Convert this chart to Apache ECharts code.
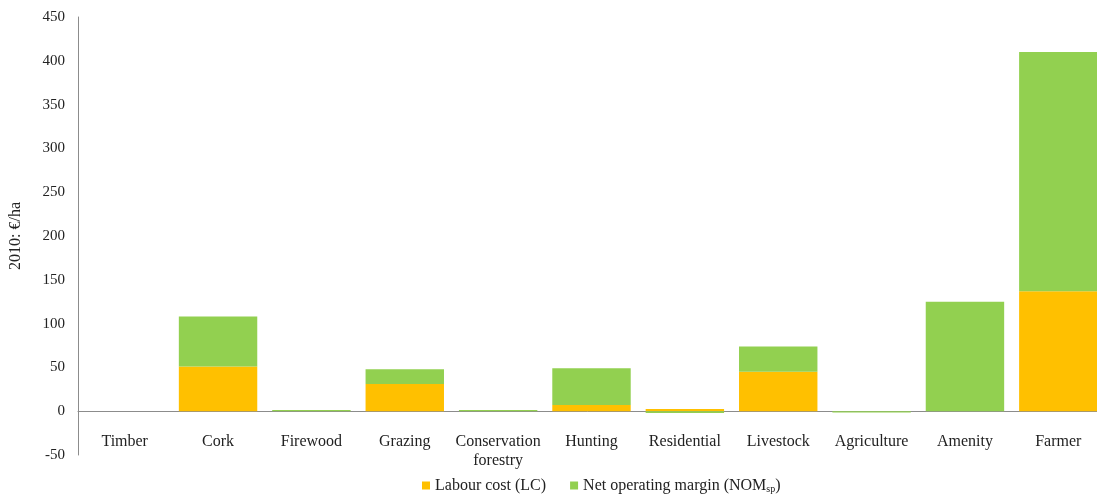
<!DOCTYPE html>
<html>
<head>
<meta charset="utf-8">
<script src="https://cdn.jsdelivr.net/npm/echarts@6/dist/echarts.min.js"></script>
<style>
  html, body { margin: 0; padding: 0; background: #fff; }
  #chart { width: 1097px; height: 496px; }
</style>
</head>
<body>
<div id="chart"></div>
<script>
// Activities on the farm (x axis)
const categories = ['Timber', 'Cork', 'Firewood', 'Grazing', 'Conservation\nforestry',
  'Hunting', 'Residential', 'Livestock', 'Agriculture', 'Amenity', 'Farmer'];

// Labour cost (LC), 2010 €/ha
const labourCost = [0, 51, 0, 31, 0, 7, 2.5, 45, 0, 0, 137];

// Net operating margin (NOMsp), 2010 €/ha
const netOperatingMargin = [0, 57, 1.5, 17, 1.5, 42, -2, 29, -1.5, 125, 273];

// Value axis
const yMin = -50, yMax = 450, yStep = 50;

const font = 'Liberation Serif';
const chart = echarts.init(document.getElementById('chart'));

chart.setOption({
  backgroundColor: '#ffffff',
  animation: false,
  // the plot area runs past the right edge of the canvas
  grid: {
    left: 78, width: 1027, top: 17, bottom: 41,
    containLabel: false, outerBoundsMode: 'none'
  },
  legend: {
    bottom: -3,
    left: 417,
    itemWidth: 8,
    itemHeight: 8,
    itemGap: 24,
    icon: 'rect',
    textStyle: {
      fontFamily: font, fontSize: 16, color: '#222',
      rich: {
        base: { fontFamily: font, fontSize: 16, color: '#222' },
        sub: { fontFamily: font, fontSize: 10, color: '#222', verticalAlign: 'bottom', padding: [7, 0, 0, 0] }
      }
    },
    formatter: function (name) {
      if (name === 'Net operating margin (NOMsp)') {
        return '{base|Net operating margin (NOM}{sub|sp}{base|)}';
      }
      return name;
    },
    data: ['Labour cost (LC)', 'Net operating margin (NOMsp)']
  },
  xAxis: {
    type: 'category',
    data: categories,
    axisLine: { onZero: true, lineStyle: { color: '#8c8c8c', width: 1 } },
    axisTick: { show: false },
    axisLabel: {
      fontFamily: font, fontSize: 16, color: '#222', margin: -23,
      interval: 0, lineHeight: 19
    },
    splitLine: { show: false }
  },
  yAxis: {
    type: 'value',
    min: yMin, max: yMax, interval: yStep,
    name: '2010: €/ha',
    nameLocation: 'middle',
    nameGap: 54,
    nameRotate: 90,
    nameTextStyle: { fontFamily: font, fontSize: 16, color: '#222' },
    axisLine: { show: true, lineStyle: { color: '#8c8c8c', width: 1 } },
    axisTick: { show: false },
    axisLabel: { fontFamily: font, fontSize: 15, color: '#222', margin: 13 },
    splitLine: { show: false }
  },
  series: [
    {
      name: 'Labour cost (LC)',
      type: 'bar',
      stack: 'total',
      barCategoryGap: '16%',
      itemStyle: { color: '#FFC000' },
      data: labourCost
    },
    {
      name: 'Net operating margin (NOMsp)',
      type: 'bar',
      stack: 'total',
      barCategoryGap: '16%',
      itemStyle: { color: '#92D050' },
      data: netOperatingMargin
    }
  ]
});
</script>
</body>
</html>
